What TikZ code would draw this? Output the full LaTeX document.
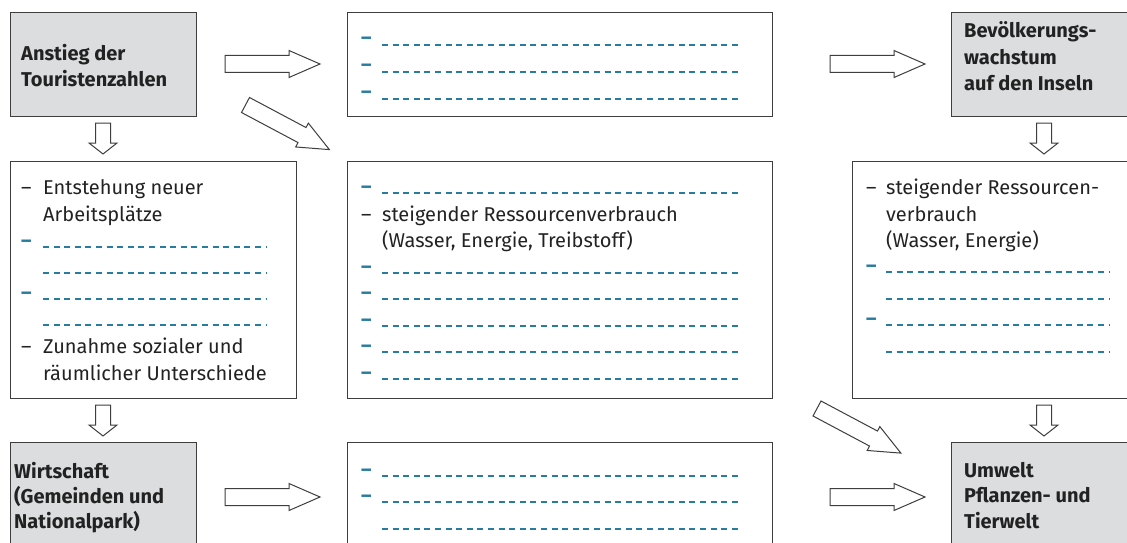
\documentclass[tikz,border=0pt]{standalone}
\usepackage{fontspec}
\setmainfont{Fira Sans}
\usetikzlibrary{positioning}

\definecolor{kastengrau}{RGB}{220,221,222}
\definecolor{rahmen}{RGB}{62,62,62}
\definecolor{petrol}{RGB}{40,124,160}
\definecolor{schrift}{RGB}{34,34,34}

\tikzset{
  kasten/.style={draw=rahmen, line width=1.4pt, anchor=north west, inner sep=0pt},
  graukasten/.style={kasten, fill=kastengrau},
  fett/.style={anchor=base west, inner sep=0pt, text=schrift, font=\fontsize{20}{24}\selectfont\bfseries},
  zeile/.style={anchor=base west, inner sep=0pt, text=schrift, font=\fontsize{20}{24}\selectfont},
  strich/.style={zeile, text=petrol, font=\fontsize{20}{24}\selectfont\bfseries},
  luecke/.style={petrol, line width=1.5pt, dash pattern=on 6pt off 4.6pt},
  pfeil/.style={draw=rahmen, line width=1pt, fill=white, line join=miter},
  pics/querpfeil/.style={code={%
    \draw[pfeil] (0,-8.5) -- (64,-8.5) -- (64,-13.5) -- (95,0) -- (64,13.5) -- (64,8.5) -- (0,8.5) -- cycle;}},
  pics/abpfeil/.style={code={%
    \draw[pfeil] (-7.5,0) -- (7.5,0) -- (7.5,20) -- (14,20) -- (0,31) -- (-14,20) -- (-7.5,20) -- cycle;}}
}

\begin{document}
\begin{tikzpicture}[x=1pt,y=-1pt]
\useasboundingbox (0,0) rectangle (1127,543);
\clip (0,0) rectangle (1127,543);

% kaesten
\node[graukasten, minimum width=186pt, minimum height=104pt] (anstieg) at (10,12) {};
\node[kasten, minimum width=425pt, minimum height=104pt] (folgenoben) at (347,12) {};
\node[graukasten, minimum width=200pt, minimum height=104pt] (bevoelkerung) at (951,12) {};
\node[kasten, minimum width=286pt, minimum height=237pt] (arbeit) at (10,161) {};
\node[kasten, minimum width=425pt, minimum height=237pt] (verbrauch) at (347,161) {};
\node[kasten, minimum width=300pt, minimum height=237pt] (ressourcen) at (852,161) {};
\node[graukasten, minimum width=186pt, minimum height=120pt] (wirtschaft) at (10,442) {};
\node[kasten, minimum width=425pt, minimum height=120pt] (folgenunten) at (347,442) {};
\node[graukasten, minimum width=200pt, minimum height=120pt] (umwelt) at (951,442) {};

% pfeile
\pic at (225,64) {querpfeil};
\pic at (830,64) {querpfeil};
\pic at (225,497) {querpfeil};
\pic at (830,497) {querpfeil};
\pic[rotate=-28] at (245.5,105) {querpfeil};
\pic[rotate=-28] at (817,408.5) {querpfeil};
\pic at (103,123) {abpfeil};
\pic at (103,405) {abpfeil};
\pic at (1044,123) {abpfeil};
\pic at (1044,405) {abpfeil};

% fette beschriftungen
\foreach \t [count=\i] in {Anstieg der, Touristenzahlen}
  \node[fett] (anstieg-\i) at (21,34+26*\i) {\t};
\foreach \t [count=\i] in {Bevölkerungs-, wachstum, auf den Inseln}
  \node[fett] (bev-\i) at (964,11.5+26.5*\i) {\t};
\foreach \t [count=\i] in {Wirtschaft, {(Gemeinden und}, {Nationalpark)}}
  \node[fett] (wirt-\i) at (14,453+25*\i) {\t};
\foreach \t [count=\i] in {Umwelt, Pflanzen- und, Tierwelt}
  \node[fett] (umw-\i) at (964,451.5+25.5*\i) {\t};

% linker kasten
\node[zeile] (a1) at (21,194) {–};
\node[zeile] (a1text) at (43,194) {Entstehung neuer};
\node[zeile] (a2text) at (43,221) {Arbeitsplätze};
\node[zeile] (a3) at (21,353) {–};
\node[zeile] (a3text) at (43,353) {Zunahme sozialer und};
\node[zeile] (a4text) at (43,380) {räumlicher Unterschiede};
\foreach \y in {247,299}
  \node[strich] (as-\y) at (21,\y) {–};
\foreach \y in {247,273,299,325}
  \draw[luecke] (43,\y) -- (267,\y);

% mittlere kaesten
\node[zeile] (m1) at (361,221) {–};
\node[zeile] (m1text) at (382,221) {steigender Ressourcenverbrauch};
\node[zeile] (m2text) at (382,247) {(Wasser, Energie, Treibstoff)};
\foreach \y in {45,72,99,193,273,299,326,352,379,476,502}
  \node[strich] (ms-\y) at (361,\y) {–};
\foreach \y in {45,72,99,193,273,299,326,352,379,476,502,529}
  \draw[luecke] (382,\y) -- (742,\y);

% rechter kasten
\node[zeile] (r1) at (866,194) {–};
\node[zeile] (r1text) at (886,194) {steigender Ressourcen-};
\node[zeile] (r2text) at (886,221) {verbrauch};
\node[zeile] (r3text) at (886,247) {(Wasser, Energie)};
\foreach \y in {272,325}
  \node[strich] (rs-\y) at (866,\y) {–};
\foreach \y in {272,299,325,352}
  \draw[luecke] (886,\y) -- (1109,\y);

\end{tikzpicture}
\end{document}
